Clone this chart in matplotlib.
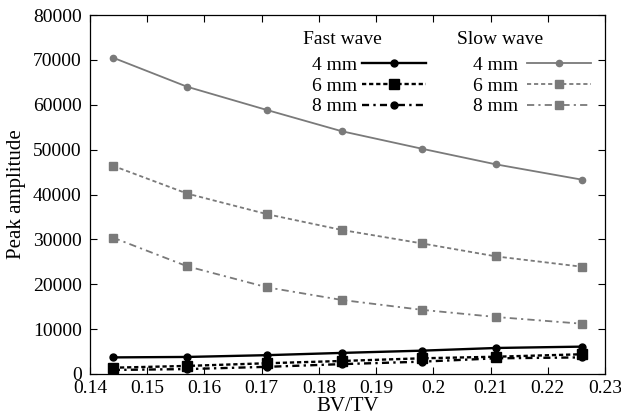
import matplotlib
matplotlib.use("Agg")
import matplotlib.pyplot as plt

plt.rcParams['font.family'] = ['Liberation Serif', 'DejaVu Serif']

bvtv = [0.144, 0.157, 0.171, 0.184, 0.198, 0.211, 0.226]

fast_4mm = [3700, 3800, 4200, 4700, 5200, 5800, 6100]
fast_6mm = [1400, 1800, 2400, 2900, 3500, 3850, 4400]
fast_8mm = [900, 1100, 1600, 2200, 2750, 3500, 3700]

slow_4mm = [70500, 64000, 58800, 54100, 50200, 46700, 43300]
slow_6mm = [46400, 40200, 35600, 32100, 29100, 26200, 23900]
slow_8mm = [30400, 24000, 19300, 16500, 14300, 12700, 11200]

labels = ["4 mm", "6 mm", "8 mm"]
grey = "#7a7a7a"
W, H = 621, 416

fig = plt.figure(figsize=(W / 100, H / 100), dpi=100)
ax = fig.add_axes([90 / W, 1 - 374 / H, 515 / W, 359 / H])

fast_styles = ["-", (0, (1.8, 1.2)), (0, (3, 1.8, 1, 1.8))]
slow_styles = ["-", (0, (2.3, 1.6)), (0, (4, 2.3, 1.2, 2.3))]

fast_lines = []
for y, ls, mk, ms in zip([fast_4mm, fast_6mm, fast_8mm], fast_styles, ["o", "s", "o"], [5, 6.5, 5]):
    l, = ax.plot(bvtv, y, color="black", linestyle=ls, linewidth=1.7, marker=mk, markersize=ms)
    fast_lines.append(l)

slow_lines = []
for y, ls, mk, ms in zip([slow_4mm, slow_6mm, slow_8mm], slow_styles, ["o", "s", "s"], [4.5, 5.5, 5.5]):
    l, = ax.plot(bvtv, y, color=grey, linestyle=ls, linewidth=1.3, marker=mk, markersize=ms)
    slow_lines.append(l)

ax.set_xlim(0.14, 0.23)
ax.set_ylim(0, 80000)
ax.set_xticks([0.14, 0.15, 0.16, 0.17, 0.18, 0.19, 0.2, 0.21, 0.22, 0.23])
ax.set_xticklabels(["0.14", "0.15", "0.16", "0.17", "0.18", "0.19", "0.2", "0.21", "0.22", "0.23"])
ax.set_yticks(range(0, 80001, 10000))
ax.tick_params(direction="in", top=True, right=True, length=5)
ax.tick_params(axis="x", labelsize=14, pad=4)
ax.tick_params(axis="y", labelsize=14, pad=6)
ax.set_xlabel("BV/TV", fontsize=15, labelpad=0)
ax.set_ylabel("Peak amplitude", fontsize=15, labelpad=5)
for s in ax.spines.values():
    s.set_linewidth(0.9)

fig.text(303 / W, 1 - 40 / H, "Fast wave", fontsize=14, ha="left", va="center")
fig.text(457 / W, 1 - 40 / H, "Slow wave", fontsize=14, ha="left", va="center")

leg1 = ax.legend(fast_lines, labels, markerfirst=False, frameon=False,
                 fontsize=14, handlelength=3.3, handletextpad=0.25,
                 labelspacing=0.17, borderpad=0, borderaxespad=0,
                 loc="upper left", bbox_to_anchor=(312 / W, 1 - 56 / H),
                 bbox_transform=fig.transFigure)
ax.add_artist(leg1)
leg2 = ax.legend(slow_lines, labels, markerfirst=False, frameon=False,
                 fontsize=14, handlelength=3.3, handletextpad=0.45,
                 labelspacing=0.17, borderpad=0, borderaxespad=0,
                 loc="upper left", bbox_to_anchor=(473 / W, 1 - 56 / H),
                 bbox_transform=fig.transFigure)

fig.savefig("out.png", dpi=100)
